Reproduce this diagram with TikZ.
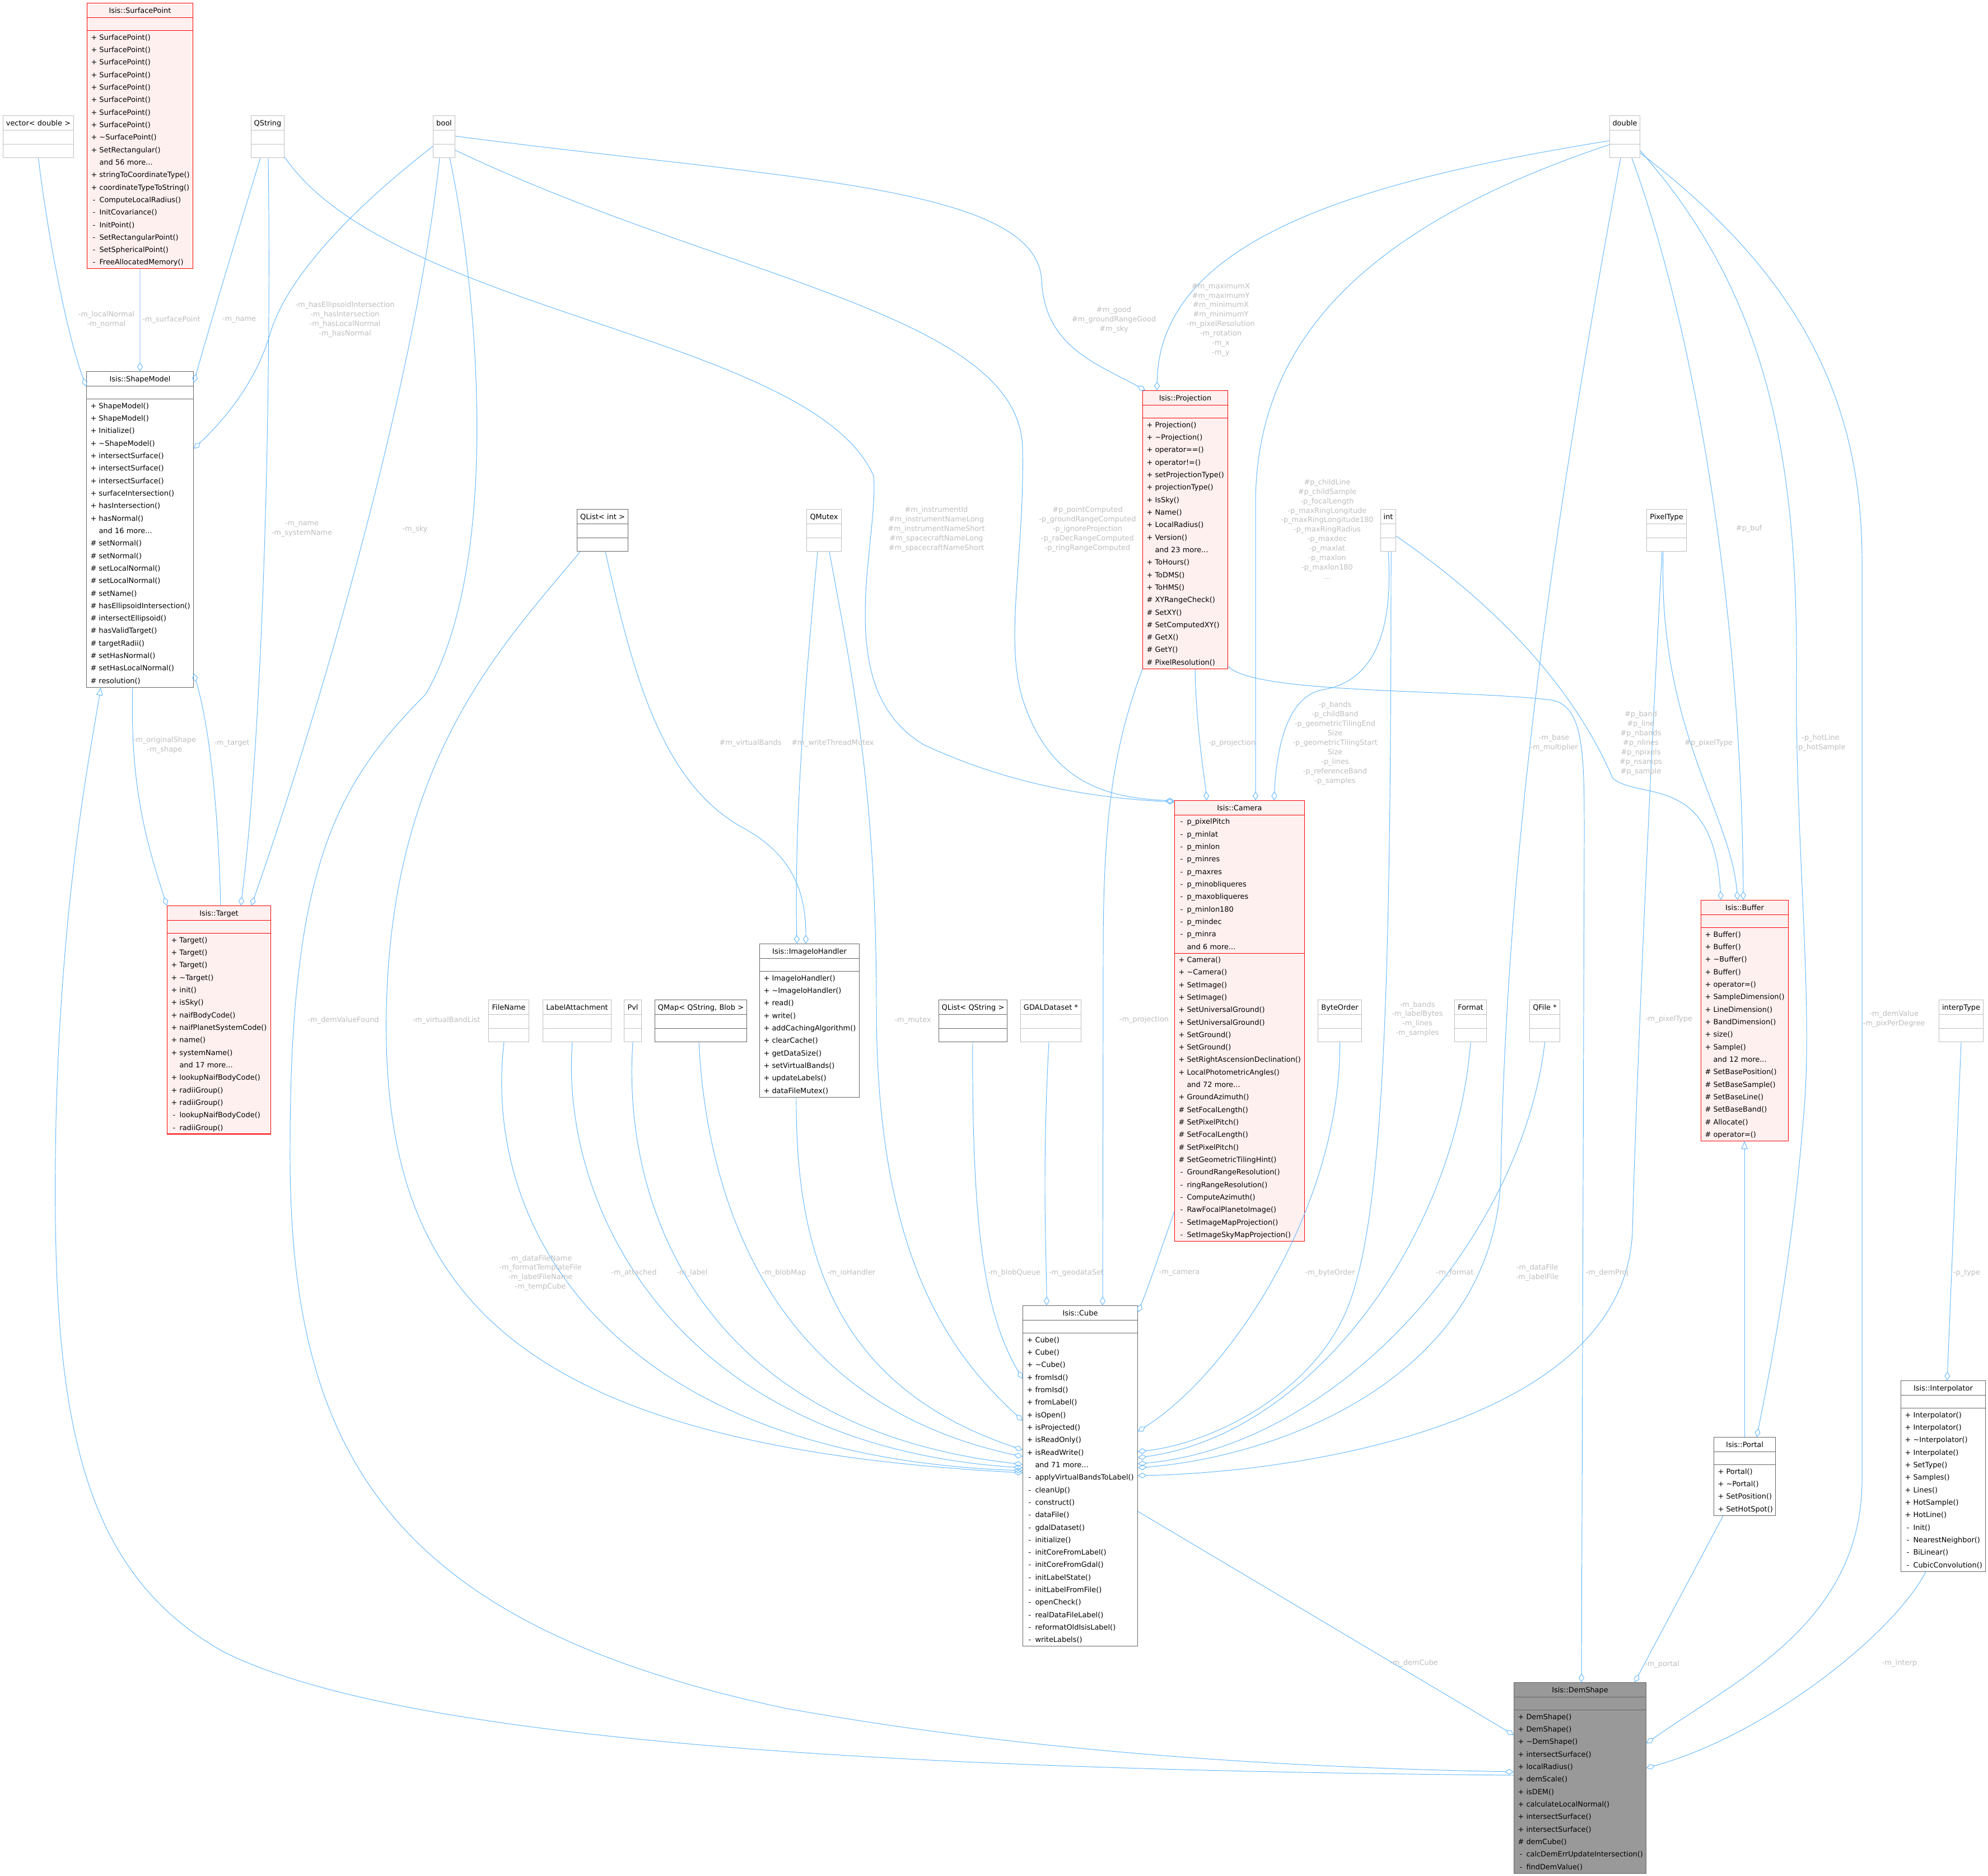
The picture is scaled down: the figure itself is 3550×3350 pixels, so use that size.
\documentclass[tikz,border=0pt]{standalone}
\usepackage{fontspec}
\setmainfont{DejaVu Sans}
\usetikzlibrary{arrows.meta, shapes.multipart, calc}

\definecolor{edgeblue}{HTML}{63B8FF}
\definecolor{docgray}{HTML}{666666}
\definecolor{undocgray}{HTML}{BFBFBF}
\definecolor{truncfill}{HTML}{FFF0F0}
\definecolor{demfill}{HTML}{999999}
\definecolor{labelgray}{HTML}{BEBEBE}

% row struts and member lines
\newcommand{\rs}{\rule[-3.65pt]{0pt}{12.7pt}}
\newcommand{\ts}{\rule[-4.4pt]{0pt}{14.2pt}}
\newcommand{\es}{\rule[-4pt]{0pt}{13.4pt}}
\newcommand{\ttl}[1]{\unskip\ts\hskip 0pt plus 1fill\mbox{#1}\hskip 0pt plus 1fill\null}
\newcommand{\mb}[2]{\unskip\rs\makebox[10.8pt][c]{#1}\mbox{#2}}

\begin{document}
\begin{tikzpicture}[
    x=0.02cm, y=-0.02cm, % one unit is one pixel of the layout
    font=\fontsize{7.35pt}{12.7pt}\selectfont,
    classbox/.style={rectangle split, rectangle split parts=3, draw=docgray, fill=white, line width=0.6pt,
        inner xsep=0.06cm, inner ysep=0pt, align=left, anchor=north west}, % Documented class
    truncbox/.style={classbox, draw=red, fill=truncfill}, % Class with hidden members
    mainbox/.style={classbox, fill=demfill}, % Class of the diagram
    typebox/.style={classbox, draw=undocgray}, % Plain type
    edge/.style={draw=edgeblue, line width=0.55pt},
    agg/.style={edge, -{Diamond[open, length=9pt, width=5.7pt]}}, % Member usage
    inh/.style={edge, -{Triangle[open, length=8pt, width=6.5pt]}}, % Inheritance
    labelstyle/.style={text=labelgray, font=\fontsize{7.35pt}{9.64pt}\selectfont, align=center, inner sep=0pt}
]

    % Canvas
    \fill[white] (0,0) rectangle (3550,3350);
    \useasboundingbox (0,0) rectangle (3550,3350);

    % Types of the top row
    \node[typebox, text width=2.40cm] (vecdbl) at (5,206) {\ttl{vector< double >}\nodepart{two}\es\nodepart{three}\es};
    \node[typebox, text width=1.06cm] (qstring) at (448,206) {\ttl{QString}\nodepart{two}\es\nodepart{three}\es};
    \node[typebox, text width=0.66cm] (boolt) at (773,206) {\ttl{bool}\nodepart{two}\es\nodepart{three}\es};
    \node[typebox, text width=0.96cm] (dbl) at (2874,206) {\ttl{double}\nodepart{two}\es\nodepart{three}\es};

    % Types of the second row
    \node[classbox, text width=1.70cm] (qlistint) at (1030,909) {\ttl{QList< int >}\nodepart{two}\es\nodepart{three}\es};
    \node[typebox, text width=1.12cm] (qmutex) at (1440,909) {\ttl{QMutex}\nodepart{two}\es\nodepart{three}\es};
    \node[typebox, text width=0.42cm] (intt) at (2465,909) {\ttl{int}\nodepart{two}\es\nodepart{three}\es};
    \node[typebox, text width=1.30cm] (pixtype) at (2940,909) {\ttl{PixelType}\nodepart{two}\es\nodepart{three}\es};

    % Types of the third row
    \node[typebox, text width=1.32cm] (filename) at (872,1785) {\ttl{FileName}\nodepart{two}\es\nodepart{three}\es};
    \node[typebox, text width=2.32cm] (labelatt) at (969,1785) {\ttl{LabelAttachment}\nodepart{two}\es\nodepart{three}\es};
    \node[typebox, text width=0.50cm] (pvl) at (1114,1785) {\ttl{Pvl}\nodepart{two}\es\nodepart{three}\es};
    \node[classbox, text width=3.16cm] (qmap) at (1169,1785) {\ttl{QMap< QString, Blob >}\nodepart{two}\es\nodepart{three}\es};
    \node[classbox, text width=2.32cm] (qliststr) at (1676,1785) {\ttl{QList< QString >}\nodepart{two}\es\nodepart{three}\es};
    \node[typebox, text width=2.04cm] (gdal) at (1822,1785) {\ttl{GDALDataset *}\nodepart{two}\es\nodepart{three}\es};
    \node[typebox, text width=1.44cm] (byteorder) at (2353,1785) {\ttl{ByteOrder}\nodepart{two}\es\nodepart{three}\es};
    \node[typebox, text width=1.02cm] (format) at (2597,1785) {\ttl{Format}\nodepart{two}\es\nodepart{three}\es};
    \node[typebox, text width=0.96cm] (qfile) at (2731,1785) {\ttl{QFile *}\nodepart{two}\es\nodepart{three}\es};
    \node[typebox, text width=1.46cm] (itype) at (3462,1785) {\ttl{interpType}\nodepart{two}\es\nodepart{three}\es};

    % Classes
    \node[truncbox, text width=3.66cm] (surfpt) at (155,5) {\ttl{Isis::SurfacePoint}\nodepart{two}\rs\nodepart{three}\mb{+}{SurfacePoint()}\\
        \mb{+}{SurfacePoint()}\\
        \mb{+}{SurfacePoint()}\\
        \mb{+}{SurfacePoint()}\\
        \mb{+}{SurfacePoint()}\\
        \mb{+}{SurfacePoint()}\\
        \mb{+}{SurfacePoint()}\\
        \mb{+}{SurfacePoint()}\\
        \mb{+}{\textasciitilde SurfacePoint()}\\
        \mb{+}{SetRectangular()}\\
        \mb{}{and 56 more...}\\
        \mb{+}{stringToCoordinateType()}\\
        \mb{+}{coordinateTypeToString()}\\
        \mb{-}{ComputeLocalRadius()}\\
        \mb{-}{InitCovariance()}\\
        \mb{-}{InitPoint()}\\
        \mb{-}{SetRectangularPoint()}\\
        \mb{-}{SetSphericalPoint()}\\
        \mb{-}{FreeAllocatedMemory()}};

    \node[classbox, text width=3.70cm] (shape) at (154,663) {\ttl{Isis::ShapeModel}\nodepart{two}\rs\nodepart{three}\mb{+}{ShapeModel()}\\
        \mb{+}{ShapeModel()}\\
        \mb{+}{Initialize()}\\
        \mb{+}{\textasciitilde ShapeModel()}\\
        \mb{+}{intersectSurface()}\\
        \mb{+}{intersectSurface()}\\
        \mb{+}{intersectSurface()}\\
        \mb{+}{surfaceIntersection()}\\
        \mb{+}{hasIntersection()}\\
        \mb{+}{hasNormal()}\\
        \mb{}{and 16 more...}\\
        \mb{\#}{setNormal()}\\
        \mb{\#}{setNormal()}\\
        \mb{\#}{setLocalNormal()}\\
        \mb{\#}{setLocalNormal()}\\
        \mb{\#}{setName()}\\
        \mb{\#}{hasEllipsoidIntersection()}\\
        \mb{\#}{intersectEllipsoid()}\\
        \mb{\#}{hasValidTarget()}\\
        \mb{\#}{targetRadii()}\\
        \mb{\#}{setHasNormal()}\\
        \mb{\#}{setHasLocalNormal()}\\
        \mb{\#}{resolution()}};

    \node[truncbox, text width=3.58cm] (target) at (298,1617) {\ttl{Isis::Target}\nodepart{two}\rs\nodepart{three}\mb{+}{Target()}\\
        \mb{+}{Target()}\\
        \mb{+}{Target()}\\
        \mb{+}{\textasciitilde Target()}\\
        \mb{+}{init()}\\
        \mb{+}{isSky()}\\
        \mb{+}{naifBodyCode()}\\
        \mb{+}{naifPlanetSystemCode()}\\
        \mb{+}{name()}\\
        \mb{+}{systemName()}\\
        \mb{}{and 17 more...}\\
        \mb{+}{lookupNaifBodyCode()}\\
        \mb{+}{radiiGroup()}\\
        \mb{+}{radiiGroup()}\\
        \mb{-}{lookupNaifBodyCode()}\\
        \mb{-}{radiiGroup()}};

    \node[classbox, text width=3.44cm] (iohandler) at (1356,1685) {\ttl{Isis::ImageIoHandler}\nodepart{two}\rs\nodepart{three}\mb{+}{ImageIoHandler()}\\
        \mb{+}{\textasciitilde ImageIoHandler()}\\
        \mb{+}{read()}\\
        \mb{+}{write()}\\
        \mb{+}{addCachingAlgorithm()}\\
        \mb{+}{clearCache()}\\
        \mb{+}{getDataSize()}\\
        \mb{+}{setVirtualBands()}\\
        \mb{+}{updateLabels()}\\
        \mb{+}{dataFileMutex()}};

    \node[truncbox, text width=2.92cm] (proj) at (2040,697) {\ttl{Isis::Projection}\nodepart{two}\rs\nodepart{three}\mb{+}{Projection()}\\
        \mb{+}{\textasciitilde Projection()}\\
        \mb{+}{operator==()}\\
        \mb{+}{operator!=()}\\
        \mb{+}{setProjectionType()}\\
        \mb{+}{projectionType()}\\
        \mb{+}{IsSky()}\\
        \mb{+}{Name()}\\
        \mb{+}{LocalRadius()}\\
        \mb{+}{Version()}\\
        \mb{}{and 23 more...}\\
        \mb{+}{ToHours()}\\
        \mb{+}{ToDMS()}\\
        \mb{+}{ToHMS()}\\
        \mb{\#}{XYRangeCheck()}\\
        \mb{\#}{SetXY()}\\
        \mb{\#}{SetComputedXY()}\\
        \mb{\#}{GetX()}\\
        \mb{\#}{GetY()}\\
        \mb{\#}{PixelResolution()}};

    \node[truncbox, text width=4.52cm] (camera) at (2097,1429) {\ttl{Isis::Camera}\nodepart{two}\mb{-}{p\_pixelPitch}\\
        \mb{-}{p\_minlat}\\
        \mb{-}{p\_minlon}\\
        \mb{-}{p\_minres}\\
        \mb{-}{p\_maxres}\\
        \mb{-}{p\_minobliqueres}\\
        \mb{-}{p\_maxobliqueres}\\
        \mb{-}{p\_minlon180}\\
        \mb{-}{p\_mindec}\\
        \mb{-}{p\_minra}\\
        \mb{}{and 6 more...}\nodepart{three}\mb{+}{Camera()}\\
        \mb{+}{\textasciitilde Camera()}\\
        \mb{+}{SetImage()}\\
        \mb{+}{SetImage()}\\
        \mb{+}{SetUniversalGround()}\\
        \mb{+}{SetUniversalGround()}\\
        \mb{+}{SetGround()}\\
        \mb{+}{SetGround()}\\
        \mb{+}{SetRightAscensionDeclination()}\\
        \mb{+}{LocalPhotometricAngles()}\\
        \mb{}{and 72 more...}\\
        \mb{+}{GroundAzimuth()}\\
        \mb{\#}{SetFocalLength()}\\
        \mb{\#}{SetPixelPitch()}\\
        \mb{\#}{SetFocalLength()}\\
        \mb{\#}{SetPixelPitch()}\\
        \mb{\#}{SetGeometricTilingHint()}\\
        \mb{-}{GroundRangeResolution()}\\
        \mb{-}{ringRangeResolution()}\\
        \mb{-}{ComputeAzimuth()}\\
        \mb{-}{RawFocalPlanetoImage()}\\
        \mb{-}{SetImageMapProjection()}\\
        \mb{-}{SetImageSkyMapProjection()}};

    \node[truncbox, text width=3.00cm] (buffer) at (3037,1607) {\ttl{Isis::Buffer}\nodepart{two}\rs\nodepart{three}\mb{+}{Buffer()}\\
        \mb{+}{Buffer()}\\
        \mb{+}{\textasciitilde Buffer()}\\
        \mb{+}{Buffer()}\\
        \mb{+}{operator=()}\\
        \mb{+}{SampleDimension()}\\
        \mb{+}{LineDimension()}\\
        \mb{+}{BandDimension()}\\
        \mb{+}{size()}\\
        \mb{+}{Sample()}\\
        \mb{}{and 12 more...}\\
        \mb{\#}{SetBasePosition()}\\
        \mb{\#}{SetBaseSample()}\\
        \mb{\#}{SetBaseLine()}\\
        \mb{\#}{SetBaseBand()}\\
        \mb{\#}{Allocate()}\\
        \mb{\#}{operator=()}};

    \node[classbox, text width=2.08cm] (portal) at (3060,2566) {\ttl{Isis::Portal}\nodepart{two}\rs\nodepart{three}\mb{+}{Portal()}\\
        \mb{+}{\textasciitilde Portal()}\\
        \mb{+}{SetPosition()}\\
        \mb{+}{SetHotSpot()}};

    \node[classbox, text width=2.90cm] (interp) at (3394,2465) {\ttl{Isis::Interpolator}\nodepart{two}\rs\nodepart{three}\mb{+}{Interpolator()}\\
        \mb{+}{Interpolator()}\\
        \mb{+}{\textasciitilde Interpolator()}\\
        \mb{+}{Interpolate()}\\
        \mb{+}{SetType()}\\
        \mb{+}{Samples()}\\
        \mb{+}{Lines()}\\
        \mb{+}{HotSample()}\\
        \mb{+}{HotLine()}\\
        \mb{-}{Init()}\\
        \mb{-}{NearestNeighbor()}\\
        \mb{-}{BiLinear()}\\
        \mb{-}{CubicConvolution()}};

    \node[classbox, text width=3.98cm] (cube) at (1826,2331) {\ttl{Isis::Cube}\nodepart{two}\rs\nodepart{three}\mb{+}{Cube()}\\
        \mb{+}{Cube()}\\
        \mb{+}{\textasciitilde Cube()}\\
        \mb{+}{fromIsd()}\\
        \mb{+}{fromIsd()}\\
        \mb{+}{fromLabel()}\\
        \mb{+}{isOpen()}\\
        \mb{+}{isProjected()}\\
        \mb{+}{isReadOnly()}\\
        \mb{+}{isReadWrite()}\\
        \mb{}{and 71 more...}\\
        \mb{-}{applyVirtualBandsToLabel()}\\
        \mb{-}{cleanUp()}\\
        \mb{-}{construct()}\\
        \mb{-}{dataFile()}\\
        \mb{-}{gdalDataset()}\\
        \mb{-}{initialize()}\\
        \mb{-}{initCoreFromLabel()}\\
        \mb{-}{initCoreFromGdal()}\\
        \mb{-}{initLabelState()}\\
        \mb{-}{initLabelFromFile()}\\
        \mb{-}{openCheck()}\\
        \mb{-}{realDataFileLabel()}\\
        \mb{-}{reformatOldIsisLabel()}\\
        \mb{-}{writeLabels()}};

    \node[mainbox, text width=4.60cm] (dem) at (2703,3004) {\ttl{Isis::DemShape}\nodepart{two}\rs\nodepart{three}\mb{+}{DemShape()}\\
        \mb{+}{DemShape()}\\
        \mb{+}{\textasciitilde DemShape()}\\
        \mb{+}{intersectSurface()}\\
        \mb{+}{localRadius()}\\
        \mb{+}{demScale()}\\
        \mb{+}{isDEM()}\\
        \mb{+}{calculateLocalNormal()}\\
        \mb{+}{intersectSurface()}\\
        \mb{+}{intersectSurface()}\\
        \mb{\#}{demCube()}\\
        \mb{-}{calcDemErrUpdateIntersection()}\\
        \mb{-}{findDemValue()}};

    % Members of ShapeModel
    \draw[agg] (vecdbl.south) .. controls (85,420) and (120,600) .. ($(shape.north west)+(0,27)$);
    \draw[agg] (surfpt.south) -- (shape.north);
    \draw[agg] ($(qstring.south west)+(17,0)$) .. controls (420,430) and (375,580) .. ($(shape.north east)+(0,20)$);
    \draw[agg] ($(boolt.south west)+(0,-21)$) .. controls (620,380) and (510,500) .. (482,597) .. controls (455,690) and (390,760) .. ($(shape.north east)+(0,138)$);
    \draw[agg] ($(target.north west)+(96,0)$) .. controls (390,1450) and (375,1300) .. ($(shape.south east)+(0,-25)$);

    % Members of Target
    \draw[agg] ($(qstring.south west)+(31,0)$) .. controls (485,700) and (470,1300) .. ($(target.north west)+(132,0)$);
    \draw[agg] ($(boolt.south west)+(12,0)$) .. controls (740,700) and (560,1300) .. ($(target.north west)+(151,0)$);
    \draw[agg] ($(shape.south west)+(83,0)$) .. controls (232,1400) and (260,1500) .. (target.north west);

    % Members of ImageIoHandler
    \draw[agg] ($(qlistint.south west)+(51,0)$) .. controls (1130,1200) and (1180,1400) .. (1330,1480) .. controls (1420,1530) and (1439,1600) .. ($(iohandler.north west)+(83,0)$);
    \draw[agg] ($(qmutex.south west)+(20,0)$) .. controls (1440,1200) and (1418,1450) .. ($(iohandler.north west)+(67,0)$);

    % Members of Projection
    \draw[agg] ($(boolt.north east)+(0,37)$) .. controls (1400,320) and (1850,330) .. (1860,500) .. controls (1865,620) and (1960,650) .. ($(proj.north west)+(5,0)$);
    \draw[agg] ($(dbl.south west)+(0,-31)$) .. controls (2450,320) and (2070,420) .. ($(proj.north west)+(26,0)$);

    % Members of Camera
    \draw[agg] ($(qstring.south east)+(0,-2)$) .. controls (700,560) and (1450,600) .. (1560,850) .. controls (1570,970) and (1480,1230) .. (1650,1330) .. controls (1800,1400) and (1950,1425) .. ($(camera.north west)+(0,3)$);
    \draw[agg] ($(boolt.south east)+(0,-14)$) .. controls (1300,500) and (1820,560) .. (1826,800) .. controls (1830,1000) and (1790,1150) .. (1830,1260) .. controls (1880,1400) and (1980,1425) .. ($(camera.north west)+(0,1)$);
    \draw[agg] ($(dbl.south west)+(0,-24)$) .. controls (2450,400) and (2242,600) .. (2242,900) -- ($(camera.north west)+(145,0)$);
    \draw[agg] ($(intt.south west)+(14,0)$) .. controls (2490,1150) and (2440,1220) .. (2360,1232) .. controls (2300,1245) and (2280,1330) .. ($(camera.north west)+(178,0)$);
    \draw[agg] ($(proj.south west)+(94,0)$) .. controls (2136,1300) and (2150,1380) .. ($(camera.north west)+(58,0)$);

    % Members of Buffer and Portal
    \draw[agg] ($(intt.south east)+(0,-28)$) .. controls (2700,1100) and (2820,1250) .. (2880,1390) .. controls (2930,1430) and (3060,1380) .. ($(buffer.north west)+(36,0)$);
    \draw[agg] ($(pixtype.south west)+(30,0)$) .. controls (2960,1300) and (3090,1450) .. ($(buffer.north west)+(66,0)$);
    \draw[agg] ($(dbl.south west)+(40,0)$) .. controls (3030,600) and (3110,1100) .. ($(buffer.north west)+(76,0)$);
    \draw[inh] ($(portal.north west)+(55,0)$) -- ($(buffer.south west)+(78,0)$);
    \draw[agg] ($(dbl.south east)+(0,-13)$) .. controls (3150,520) and (3210,800) .. (3208,1200) .. controls (3205,1500) and (3240,1800) .. (3220,2000) .. controls (3200,2250) and (3160,2450) .. ($(portal.north west)+(77,0)$);

    % Members of Interpolator
    \draw[agg] (itype.south) -- ($(interp.north west)+(83,0)$);

    % Members of Cube, from above and from the right
    \draw[agg] ($(gdal.south west)+(51,0)$) .. controls (1860,2100) and (1869,2250) .. ($(cube.north west)+(43,0)$);
    \draw[agg] (proj.south west) .. controls (1990,1330) and (1970,1450) .. (1970,1700) -- ($(cube.north west)+(143,0)$);
    \draw[agg] ($(camera.south west)+(0,-53)$) .. controls (2070,2240) and (2050,2300) .. ($(cube.north east)+(0,12)$);
    \draw[agg] (byteorder.south) .. controls (2395,2150) and (2200,2450) .. ($(cube.north east)+(0,225)$);
    \draw[agg] ($(intt.south west)+(19,0)$) .. controls (2484,1800) and (2470,2200) .. (2400,2350) .. controls (2330,2500) and (2150,2580) .. ($(cube.north east)+(0,261)$);
    \draw[agg] (format.south) .. controls (2600,2200) and (2350,2560) .. ($(cube.north east)+(0,272)$);
    \draw[agg] (qfile.south) .. controls (2720,2200) and (2400,2580) .. ($(cube.north east)+(0,283)$);
    \draw[agg] ($(dbl.south west)+(20,0)$) .. controls (2780,900) and (2690,1500) .. (2680,2100) .. controls (2670,2450) and (2300,2600) .. ($(cube.north east)+(0,290)$);
    \draw[agg] ($(pixtype.south west)+(28,0)$) .. controls (2940,1500) and (2920,2000) .. (2915,2200) .. controls (2900,2550) and (2300,2630) .. ($(cube.north east)+(0,304)$);

    % Members of Cube, from the left
    \draw[agg] ($(qliststr.south west)+(61,0)$) .. controls (1735,2200) and (1760,2350) .. ($(cube.north west)+(0,131)$);
    \draw[agg] ($(qmutex.south west)+(41,0)$) .. controls (1520,1200) and (1565,1400) .. (1565,1800) .. controls (1565,2250) and (1700,2420) .. ($(cube.north west)+(0,206)$);
    \draw[agg] ($(iohandler.south west)+(66,0)$) .. controls (1420,2250) and (1500,2480) .. ($(cube.north west)+(0,258)$);
    \draw[agg] ($(qmap.south west)+(79,0)$) .. controls (1260,2100) and (1350,2500) .. ($(cube.north west)+(0,270)$);
    \draw[agg] (pvl.south) .. controls (1110,2150) and (1250,2550) .. ($(cube.north west)+(0,284)$);
    \draw[agg] ($(labelatt.south west)+(53,0)$) .. controls (1000,2150) and (1200,2580) .. ($(cube.north west)+(0,290)$);
    \draw[agg] ($(filename.south west)+(28,0)$) .. controls (860,2200) and (1100,2600) .. ($(cube.north west)+(0,295)$);
    \draw[agg] ($(qlistint.south west)+(6,0)$) .. controls (900,1150) and (700,1350) .. (690,1800) .. controls (680,2300) and (900,2580) .. ($(cube.north west)+(0,299)$);

    % Members of DemShape
    \draw[agg] ($(proj.south east)+(0,-5)$) .. controls (2240,1240) and (2600,1230) .. (2770,1250) .. controls (2830,1260) and (2829,1350) .. (2829,1500) -- ($(dem.north west)+(121,0)$);
    \draw[agg] ($(cube.north east)+(0,368)$) -- ($(dem.north west)+(0,94)$);
    \draw[agg] ($(portal.south west)+(17,0)$) -- ($(dem.north east)+(-21,0)$);
    \draw[agg] ($(interp.south west)+(45,0)$) .. controls (3380,2920) and (3150,3100) .. ($(dem.north east)+(0,153)$);
    \draw[agg] ($(dbl.south east)+(0,-9)$) .. controls (3200,480) and (3325,700) .. (3325,1000) -- (3325,2650) .. controls (3320,2900) and (3100,3000) .. ($(dem.north east)+(0,109)$);
    \draw[agg] ($(boolt.south east)+(-10,0)$) .. controls (850,500) and (900,1000) .. (760,1240) .. controls (600,1400) and (518,1550) .. (518,2050) .. controls (515,2600) and (700,2900) .. (1400,3050) .. controls (1900,3140) and (2400,3158) .. ($(dem.north west)+(0,160)$);

    % DemShape is a ShapeModel
    \draw[inh] ($(dem.north west)+(0,166)$) .. controls (1500,3160) and (700,3100) .. (400,2950) .. controls (130,2800) and (90,2500) .. (100,2000) .. controls (110,1600) and (160,1350) .. ($(shape.south west)+(26,0)$);

    % Labels of the connectors
    \node[labelstyle] (l_normal) at (190,571) {-m\_localNormal\\-m\_normal};
    \node[labelstyle] (l_surfpt) at (306,571) {-m\_surfacePoint};
    \node[labelstyle] (l_name) at (427,571) {-m\_name};
    \node[labelstyle] (l_hasflags) at (616,571) {-m\_hasEllipsoidIntersection\\-m\_hasIntersection\\-m\_hasLocalNormal\\-m\_hasNormal};
    \node[labelstyle] (l_good) at (1989,571) {\#m\_good\\\#m\_groundRangeGood\\\#m\_sky};
    \node[labelstyle] (l_extent) at (2180,571) {\#m\_maximumX\\\#m\_maximumY\\\#m\_minimumX\\\#m\_minimumY\\-m\_pixelResolution\\-m\_rotation\\-m\_x\\-m\_y};
    \node[labelstyle] (l_tgtname) at (539,945) {-m\_name\\-m\_systemName};
    \node[labelstyle] (l_sky) at (741,945) {-m\_sky};
    \node[labelstyle] (l_instr) at (1672,945) {\#m\_instrumentId\\\#m\_instrumentNameLong\\\#m\_instrumentNameShort\\\#m\_spacecraftNameLong\\\#m\_spacecraftNameShort};
    \node[labelstyle] (l_computed) at (1942,945) {\#p\_pointComputed\\-p\_groundRangeComputed\\-p\_ignoreProjection\\-p\_raDecRangeComputed\\-p\_ringRangeComputed};
    \node[labelstyle] (l_camdbl) at (2370,945) {\#p\_childLine\\\#p\_childSample\\-p\_focalLength\\-p\_maxRingLongitude\\-p\_maxRingLongitude180\\-p\_maxRingRadius\\-p\_maxdec\\-p\_maxlat\\-p\_maxlon\\-p\_maxlon180\\...};
    \node[labelstyle] (l_buf) at (3123,944) {\#p\_buf};
    \node[labelstyle] (l_shapes) at (294,1331) {-m\_originalShape\\-m\_shape};
    \node[labelstyle] (l_target) at (414,1327) {-m\_target};
    \node[labelstyle] (l_vbands) at (1340,1327) {\#m\_virtualBands};
    \node[labelstyle] (l_wmutex) at (1487,1327) {\#m\_writeThreadMutex};
    \node[labelstyle] (l_pproj) at (2200,1327) {-p\_projection};
    \node[labelstyle] (l_camint) at (2384,1327) {-p\_bands\\-p\_childBand\\-p\_geometricTilingEnd\\Size\\-p\_geometricTilingStart\\Size\\-p\_lines\\-p\_referenceBand\\-p\_samples};
    \node[labelstyle] (l_base) at (2775,1327) {-m\_base\\-m\_multiplier};
    \node[labelstyle] (l_bufint) at (2930,1327) {\#p\_band\\\#p\_line\\\#p\_nbands\\\#p\_nlines\\\#p\_npixels\\\#p\_nsamps\\\#p\_sample};
    \node[labelstyle] (l_ppix) at (3051,1327) {\#p\_pixelType};
    \node[labelstyle] (l_hot) at (3251,1327) {-p\_hotLine\\-p\_hotSample};
    \node[labelstyle] (l_found) at (613,1822) {-m\_demValueFound};
    \node[labelstyle] (l_vblist) at (797,1822) {-m\_virtualBandList};
    \node[labelstyle] (l_mutex) at (1630,1822) {-m\_mutex};
    \node[labelstyle] (l_mproj) at (2043,1821) {-m\_projection};
    \node[labelstyle] (l_bands) at (2531,1820) {-m\_bands\\-m\_labelBytes\\-m\_lines\\-m\_samples};
    \node[labelstyle] (l_mpix) at (2980,1820) {-m\_pixelType};
    \node[labelstyle] (l_demval) at (3382,1820) {-m\_demValue\\-m\_pixPerDegree};
    \node[labelstyle] (l_files) at (965,2273) {-m\_dataFileName\\-m\_formatTemplateFile\\-m\_labelFileName\\-m\_tempCube};
    \node[labelstyle] (l_attached) at (1132,2273) {-m\_attached};
    \node[labelstyle] (l_label) at (1236,2273) {-m\_label};
    \node[labelstyle] (l_blobmap) at (1400,2273) {-m\_blobMap};
    \node[labelstyle] (l_io) at (1520,2273) {-m\_ioHandler};
    \node[labelstyle] (l_blobq) at (1811,2273) {-m\_blobQueue};
    \node[labelstyle] (l_geo) at (1922,2273) {-m\_geodataSet};
    \node[labelstyle] (l_camera) at (2106,2273) {-m\_camera};
    \node[labelstyle] (l_byte) at (2375,2273) {-m\_byteOrder};
    \node[labelstyle] (l_format) at (2598,2273) {-m\_format};
    \node[labelstyle] (l_datafile) at (2745,2273) {-m\_dataFile\\-m\_labelFile};
    \node[labelstyle] (l_demproj) at (2870,2273) {-m\_demProj};
    \node[labelstyle] (l_type) at (3512,2273) {-p\_type};
    \node[labelstyle] (l_demcube) at (2525,2970) {-m\_demCube};
    \node[labelstyle] (l_portal) at (2968,2972) {-m\_portal};
    \node[labelstyle] (l_interp) at (3392,2970) {-m\_interp};

\end{tikzpicture}
\end{document}
